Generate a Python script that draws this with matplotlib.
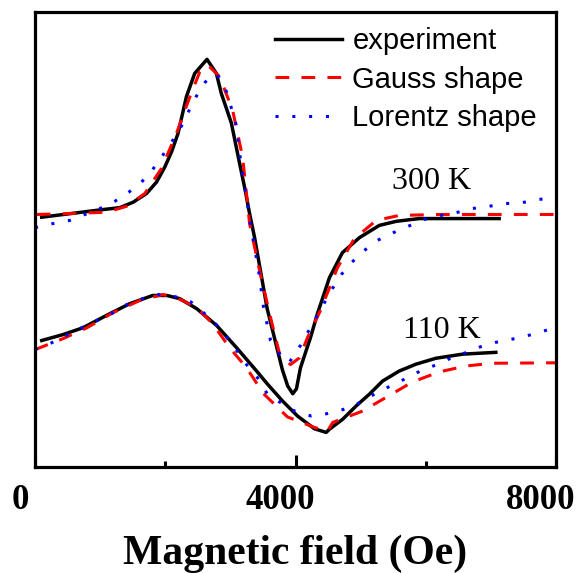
import numpy as np
import matplotlib
matplotlib.use("Agg")
import matplotlib.pyplot as plt
from matplotlib.ticker import MultipleLocator
from matplotlib.transforms import ScaledTranslation

# field in Oe, signal in arbitrary units (0..100 over the plot height)
exp300_x = [103, 996, 1303, 1507, 1712, 1865, 1992, 2095, 2196, 2325, 2452, 2641, 2785, 2861,
            3015, 3142, 3228, 3295, 3372, 3565, 3798, 3880, 3958, 4015, 4076, 4229, 4337,
            4521, 4720, 4981, 5287, 5548, 5901, 7127]
exp300_y = [54.9, 56.5, 57.0, 58.2, 60.1, 62.6, 65.9, 69.2, 73.3, 81.4, 86.5, 89.6, 86.5, 82.1,
            75.6, 66.7, 60.8, 55.7, 50.4, 34.8, 21.4, 17.8, 16.1, 17.2, 21.8, 28.4, 33.7,
            41.6, 47.1, 50.4, 53.1, 54.0, 54.6, 54.6]

gauss300_x = [26, 536, 1099, 1405, 1686, 1942, 2172, 2376, 2529, 2656, 2835, 3035, 3188, 3295,
              3448, 3602, 3755, 3923, 4061, 4183, 4383, 4644, 4904, 5241, 5594, 6253, 8000]
gauss300_y = [55.5, 55.7, 56.0, 57.3, 60.1, 65.6, 73.3, 81.3, 86.8, 88.3, 85.8, 78.4, 68.1, 53.5,
              43.2, 33.7, 24.9, 22.5, 24.0, 28.4, 34.4, 43.8, 50.2, 54.2, 55.3, 55.5, 55.5]

lor300_x = [0, 276, 536, 766, 996, 1226, 1441, 1635, 1808, 1962, 2115, 2248, 2360, 2478, 2605,
            2713, 2820, 2943, 3015, 3091, 3153, 3234, 3306, 3433, 3510, 3617, 3755, 3900, 4076,
            4314, 4567, 4705, 4858, 5058, 5257, 5502, 5763, 5977, 6238, 6468, 6713, 6973, 7234,
            7479, 7740, 8000]
lor300_y = [52.6, 53.5, 54.2, 55.5, 56.8, 58.4, 60.4, 62.6, 65.4, 68.5, 71.8, 74.9, 78.2, 81.5,
            84.4, 86.3, 85.8, 82.4, 78.9, 75.1, 67.8, 60.4, 53.5, 43.2, 35.0, 27.8, 24.9, 22.9,
            26.7, 32.8, 39.2, 42.3, 44.9, 47.6, 49.8, 51.5, 53.1, 54.4, 55.3, 55.9, 56.8, 57.3,
            57.9, 58.1, 58.8, 59.3]

exp110_x = [103, 429, 736, 1149, 1456, 1808, 2023, 2222, 2483, 2789, 3096, 3402, 3565, 3801,
            4031, 4291, 4471, 4521, 4725, 4930, 5134, 5338, 5594, 5850, 6156, 6564, 7076]
exp110_y = [27.8, 29.1, 30.6, 33.7, 35.9, 37.7, 37.7, 37.0, 34.8, 31.1, 26.2, 21.1, 18.3, 14.5,
            11.2, 8.4, 7.6, 8.3, 10.5, 13.4, 16.0, 18.9, 21.1, 22.6, 23.9, 24.8, 25.2]

gauss110_x = [0, 429, 797, 1195, 1609, 1962, 2176, 2483, 2728, 2989, 3249, 3510, 3877, 4291,
              4490, 4572, 5032, 5390, 5798, 6207, 6616, 7024, 8000]
gauss110_y = [25.8, 28.2, 30.6, 33.9, 36.6, 37.9, 37.2, 35.0, 31.5, 26.2, 21.8, 16.1, 11.0, 8.7,
              7.9, 9.8, 12.3, 15.3, 18.7, 20.9, 22.2, 22.8, 22.9]

lor110_x = [0, 256, 486, 716, 946, 1176, 1410, 1655, 1900, 2161, 2391, 2575, 2770, 2938, 3096,
            3249, 3418, 3565, 3755, 3985, 4245, 4475, 4725, 4966, 5185, 5415, 5645, 5875, 6115,
            6350, 6590, 6835, 7076, 7396, 7655, 7908]
lor110_y = [25.8, 27.3, 28.9, 30.6, 32.2, 33.7, 35.7, 37.0, 37.9, 37.4, 36.3, 34.1, 31.5, 28.6,
            25.6, 22.5, 19.6, 16.1, 14.3, 12.3, 11.2, 11.7, 12.6, 14.0, 15.8, 17.5, 19.1, 20.8,
            22.2, 23.7, 25.0, 26.4, 27.4, 28.3, 29.2, 30.3]

serif = "Liberation Serif"
sans = "Liberation Sans"

fig = plt.figure(figsize=(5.82, 5.73), dpi=100)
ax = fig.add_axes([35 / 582, 106 / 573, 521 / 582, 455 / 573])

dash = (0, (4.5, 4))
dot = (0, (1, 4.5))

ax.plot(exp300_x, exp300_y, color="black", lw=2.5, label="experiment")
ax.plot(gauss300_x, gauss300_y, color="red", lw=2.2, ls=dash, label="Gauss shape")
ax.plot(lor300_x, lor300_y, color="blue", lw=2.2, ls=dot, label="Lorentz shape")
ax.plot(exp110_x, exp110_y, color="black", lw=2.5)
ax.plot(gauss110_x, gauss110_y, color="red", lw=2.2, ls=dash)
ax.plot(lor110_x, lor110_y, color="blue", lw=2.2, ls=dot)

ax.text(6084, 62.8, "300 K", family=serif, fontsize=23, ha="center", va="center")
ax.text(6253, 30.0, "110 K", family=serif, fontsize=23, ha="center", va="center")

ax.set_xlim(0, 8000)
ax.set_ylim(0, 100)
ax.xaxis.set_major_locator(MultipleLocator(4000))
ax.xaxis.set_minor_locator(MultipleLocator(2000))
ax.tick_params(axis="x", which="major", direction="in", length=9, width=2.2, pad=12,
               top=False, labelsize=25)
ax.tick_params(axis="x", which="minor", direction="in", length=4, width=2.2, top=False)
ax.set_yticks([])
for s in ax.spines.values():
    s.set_linewidth(2.3)

shift = ScaledTranslation(-15 / 100, 0, fig.dpi_scale_trans)
for lab in ax.get_xticklabels():
    lab.set_fontfamily(serif)
    lab.set_fontweight("bold")
    lab.set_transform(lab.get_transform() + shift)

ax.set_xlabel("Magnetic field (Oe)", family=serif, fontweight="bold", fontsize=30, labelpad=13)

ax.legend(loc="upper left", bbox_to_anchor=(275 / 582, 1 - 27 / 573),
          bbox_transform=fig.transFigure, frameon=False, prop={"family": sans, "size": 21},
          handlelength=2.3, handletextpad=0.35, labelspacing=0.36, borderpad=0,
          borderaxespad=0)

fig.savefig("out.png", dpi=100)
